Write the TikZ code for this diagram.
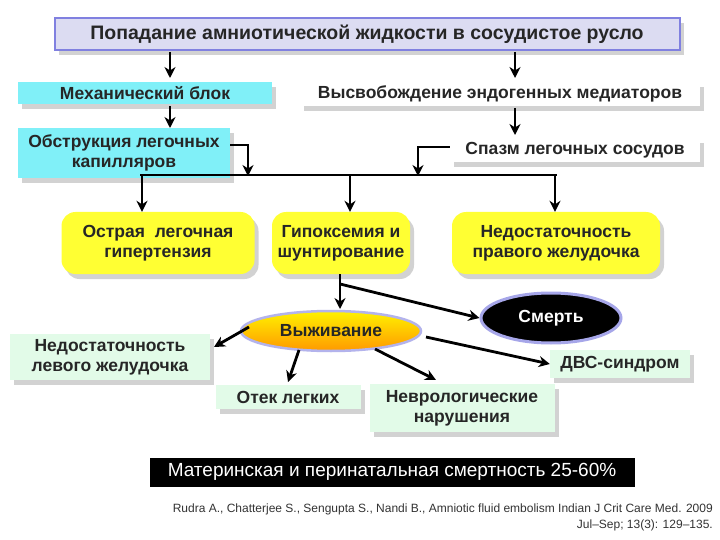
\documentclass[tikz,border=0pt]{standalone}
\usepackage{fontspec}
\setmainfont{Liberation Sans}
\usetikzlibrary{arrows.meta,shadows,shapes.geometric}
\definecolor{lav}{HTML}{DCDCF2}
\definecolor{cyanb}{HTML}{80F0F8}
\definecolor{yel}{HTML}{FFFF33}
\definecolor{lgreen}{HTML}{E2FBE8}
\definecolor{glow}{HTML}{8080E0}
\begin{document}
\begin{tikzpicture}[x=1pt,y=-1pt,
  txt/.style={font=\fontsize{17.5}{20}\selectfont\bfseries,align=center,text=black!85},
  box/.style={txt,draw=none,inner sep=1pt,drop shadow={shadow xshift=4pt,shadow yshift=-5pt,opacity=.35}},
  arr/.style={line width=2.8pt,-{Stealth[length=11pt,width=11pt]}},
  ln/.style={line width=2.8pt}]
\useasboundingbox (0,0) rectangle (720,540);
\fill[white] (0,0) rectangle (720,540);
% top
\node[box,fill=lav,draw=glow,line width=2pt,minimum width=625,minimum height=32,font=\fontsize{19.5}{22}\selectfont\bfseries] (top) at (367,34) {Попадание амниотической жидкости в сосудистое русло};
\node[box,fill=cyanb,minimum width=254,minimum height=22] (mech) at (145,93) {Механический блок};
\node[box,fill=white,minimum width=400,minimum height=24] (rel) at (500,94) {Высвобождение эндогенных медиаторов};
\node[box,fill=cyanb,minimum width=212,minimum height=50] (obs) at (124,153) {Обструкция легочных\\капилляров};
\node[box,fill=white,minimum width=250,minimum height=24] (spa) at (575,150) {Спазм легочных сосудов};
\coordinate (t1) at (170,52); \coordinate (t2) at (515,52);
\draw[arr] (t1) -- (170,78);
\draw[arr] (t2) -- (515,78);
\draw[arr] (170,106) -- (170,128);
\draw[arr] (515,108) -- (515,135);
\coordinate (hl) at (140,175); \coordinate (hr) at (557,175);
\draw[ln] (hl) -- (hr);
\draw[arr] (obs.east |- 0,145) -- (248,145) -- (248,176);
\draw[arr] (spa.west |- 0,147) -- (418,147) -- (418,176);
\node[box,fill=yel,rounded corners=14pt,minimum width=193,minimum height=62] (ost) at (158,243) {Острая \ легочная\\гипертензия};
\node[box,fill=yel,rounded corners=14pt,minimum width=138,minimum height=62] (hyp) at (341,243) {Гипоксемия и\\шунтирование};
\node[box,fill=yel,rounded corners=14pt,minimum width=208,minimum height=62] (rv) at (556,243) {Недостаточность\\правого желудочка};
\draw[arr] (142,175) -- (ost.north -| 142,0);
\draw[arr] (350,175) -- (hyp.north -| 350,0);
\draw[arr] (555,175) -- (rv.north -| 555,0);
% ellipses
\node[ellipse,fill=black,draw=glow!70,line width=3pt,minimum width=140,minimum height=50,text=white,font=\fontsize{17.5}{20}\selectfont\bfseries] (death) at (551,318) {Смерть};
\node[ellipse,top color=yellow!90!orange,bottom color=orange!80!yellow,draw=glow!60,line width=2.5pt,minimum width=180,minimum height=40,txt,inner sep=0pt] (surv) at (331,331) {Выживание};
\coordinate (hb) at (340,284);
\draw[ln] (hyp.south -| hb) -- (hb);
\draw[arr] (hb) -- (340,309);
\draw[arr] (hb) -- (death.west);
\node[box,fill=lgreen,minimum width=200,minimum height=46] (lv) at (110,357) {Недостаточность\\левого желудочка};
\node[box,fill=lgreen,minimum width=145,minimum height=24] (ot) at (288,397) {Отек легких};
\node[box,fill=lgreen,minimum width=185,minimum height=48] (neu) at (462,408) {Неврологические\\нарушения};
\node[box,fill=lgreen,minimum width=140,minimum height=28] (dvs) at (620,364) {ДВС-синдром};
\coordinate (s1) at (249,327);
\draw[arr] (s1) -- (214,347);
\draw[arr] (299,350) -- (288,382);
\draw[arr] (375,349) -- (436,380);
\draw[arr] (426,337) -- (dvs.west);
\node[fill=black,text=white,font=\fontsize{19}{22}\selectfont,minimum width=485,minimum height=29,inner sep=1pt] (mat) at (392,472) {Материнская и перинатальная смертность 25-60\%};
\node[anchor=north east,align=right,font=\fontsize{12}{16}\selectfont,text=black!80,inner sep=0] (cit) at (713,504) {Rudra A., Chatterjee S., Sengupta S., Nandi B., Amniotic fluid embolism Indian J Crit Care Med. 2009\\Jul–Sep; 13(3): 129–135.};
\end{tikzpicture}
\end{document}
